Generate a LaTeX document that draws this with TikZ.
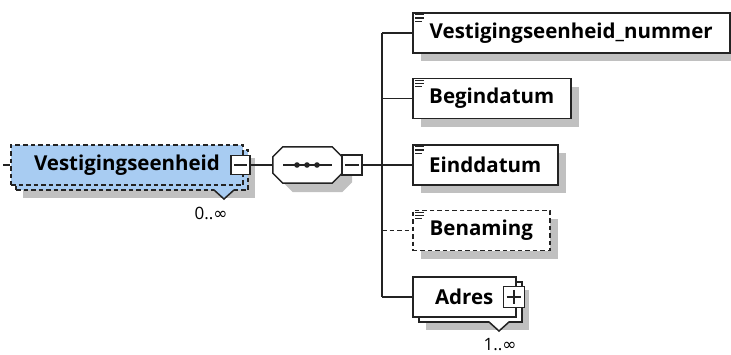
\documentclass[tikz,border=0pt]{standalone}
\usepackage{fontspec}
\setmainfont{Open Sans}
\newfontfamily\symfont{DejaVu Sans}
\usetikzlibrary{positioning, shadows}
\definecolor{elemblue}{RGB}{168,204,242}
\definecolor{shadowgray}{RGB}{192,192,192}
\definecolor{linegray}{RGB}{35,35,35}

\begin{document}
\begin{tikzpicture}[x=1pt, y=-1pt,
    every node/.style={font=\bfseries\fontsize{20.5}{24}\selectfont},
    elem/.style={draw=linegray, line width=1.5pt, fill=white, minimum height=40pt, inner sep=0pt,
      general shadow={fill=shadowgray, shadow xshift=8pt, shadow yshift=-8pt}},
    optelem/.style={elem, dash pattern=on 4.5pt off 3pt},
    multelem/.style={draw=linegray, line width=1.5pt, fill=white, minimum height=40pt, inner sep=0pt,
      general shadow={fill=shadowgray, shadow xshift=13pt, shadow yshift=-13pt},
      general shadow={draw=linegray, fill=white, shadow xshift=6pt, shadow yshift=-5pt}},
    rootelem/.style={draw=linegray, line width=1.5pt, fill=elemblue, minimum height=40pt, inner sep=0pt,
      dash pattern=on 4.5pt off 3pt,
      general shadow={fill=shadowgray, shadow xshift=12pt, shadow yshift=-13pt},
      general shadow={draw=linegray, fill=elemblue, dash pattern=on 4.5pt off 3pt, shadow xshift=5pt, shadow yshift=-5pt}},
    seqline/.style={draw=linegray, line width=1.5pt, fill=white,
      general shadow={fill=shadowgray, shadow xshift=10pt, shadow yshift=-9pt}},
    btn/.style={draw=linegray, line width=1.5pt, fill=white, minimum size=19pt, inner sep=0pt},
    mult/.style={font=\fontsize{17}{20}\selectfont},
    conn/.style={draw=linegray, line width=1.5pt},
    icon/.pic={\draw[linegray, line width=1.2pt] (0,0) -- (9,0) (0,3.3) -- (9,3.3) (0,6.6) -- (7,6.6);}
  ]
  \useasboundingbox (0,0) rectangle (731,354);

  % root element
  \node[rootelem, minimum width=232pt] (root) at (127,165) {Vestigingseenheid};
  \fill[elemblue] (214,189) -- (224,199) -- (234,189) -- cycle;
  \draw[linegray, line width=1.5pt] (214,190) -- (224,199) -- (234,190);
  \node[mult] (rootmult) at (211,213) {0..{\symfont ∞}};
  \node[btn] (rootbtn) at (240.5,165) {};
  \draw[linegray, line width=1.5pt] ([xshift=4pt]rootbtn.west) -- ([xshift=-4pt]rootbtn.east);

  % sequence
  \node[minimum width=69pt, minimum height=36pt, inner sep=0pt] (seq) at (307.5,165) {};
  \draw[seqline] ([xshift=10pt]seq.north west) -- ([xshift=-10pt]seq.north east)
    -- ([yshift=-10pt]seq.north east) -- ([yshift=10pt]seq.south east)
    -- ([xshift=-10pt]seq.south east) -- ([xshift=10pt]seq.south west)
    -- ([yshift=10pt]seq.south west) -- ([yshift=-10pt]seq.north west) -- cycle;
  \draw[linegray, line width=1.5pt] (283,165) -- (332,165);
  \fill[linegray] (297,165) circle (2.8pt) (307,165) circle (2.8pt) (317,165) circle (2.8pt);
  \node[btn, minimum size=20pt] (seqbtn) at (352,165) {};
  \draw[linegray, line width=1.5pt] ([xshift=4pt]seqbtn.west) -- ([xshift=-4pt]seqbtn.east);

  % children
  \node[elem, minimum width=317pt, anchor=west] (nummer) at (412,33) {Vestigingseenheid\_nummer};
  \node[elem, minimum width=158pt, anchor=west] (begin) at (412,98.5) {Begindatum};
  \node[elem, minimum width=145pt, anchor=west] (eind) at (412,165) {Einddatum};
  \node[optelem, minimum width=137pt, anchor=west] (benaming) at (412,230.5) {Benaming};
  \node[multelem, minimum width=103pt, anchor=west] (adres) at (412,297) {Adres};
  \fill[white] (489,321) -- (499,331) -- (509,321) -- cycle;
  \draw[linegray, line width=1.5pt] (489,322) -- (499,331) -- (509,322);
  \node[mult] (adresmult) at (500,345) {1..{\symfont ∞}};
  \node[btn, minimum size=21pt] (adresbtn) at (514,297) {};
  \draw[linegray, line width=1.5pt] ([xshift=4pt]adresbtn.west) -- ([xshift=-4pt]adresbtn.east)
    ([yshift=-4pt]adresbtn.north) -- ([yshift=4pt]adresbtn.south);

  % icons
  \foreach \n in {nummer, begin, eind, benaming}
    \pic at ([shift={(3pt,-2.5pt)}]\n.north west) {icon};

  % bus
  \coordinate (lin) at (3,165);
  \coordinate (b1) at (382,33);
  \coordinate (b2) at (382,98.5);
  \coordinate (b3) at (382,165);
  \coordinate (b4) at (382,230.5);
  \coordinate (b5) at (382,297);

  % Now the lines between the nodes
  \draw[conn] (lin) -- (root);
  \draw[conn] (rootbtn) -- ([xshift=-1pt]seq.west);
  \draw[conn] (seqbtn) -- (b3);
  \draw[conn] (b1) -- (b5);
  \draw[conn] (b1) -- (nummer);
  \draw[conn] (b2) -- (begin);
  \draw[conn] (b3) -- (eind);
  \draw[conn, dash pattern=on 4.5pt off 3pt] (b4) -- (benaming);
  \draw[conn] (b5) -- (adres);
\end{tikzpicture}
\end{document}
